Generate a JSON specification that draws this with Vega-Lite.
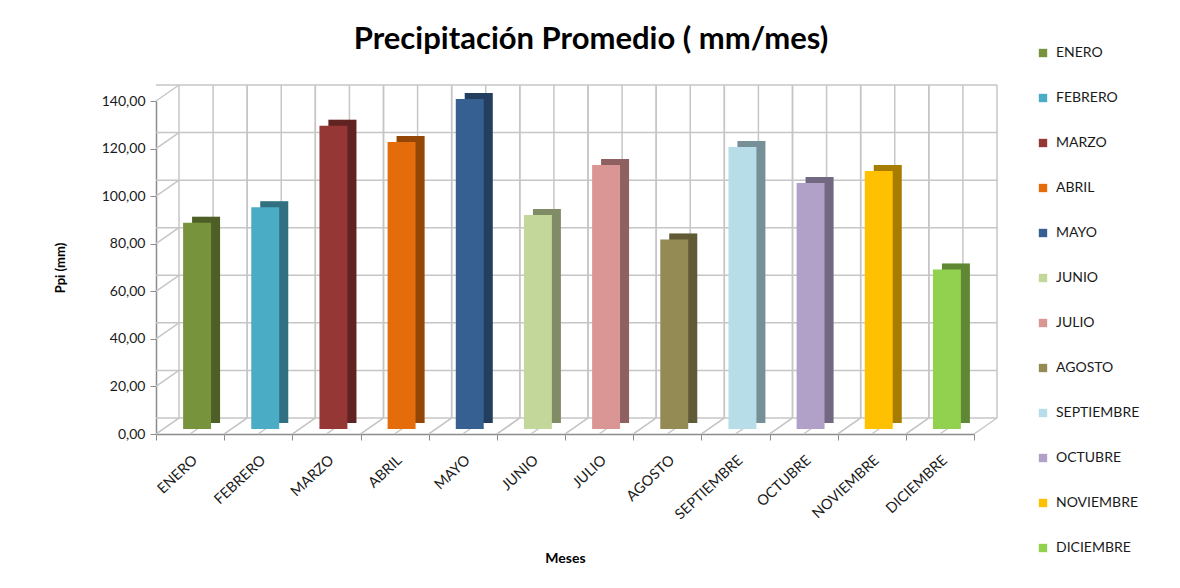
{
  "$schema": "https://vega.github.io/schema/vega-lite/v6.json",
  "width": 818,
  "height": 333,
  "autosize": "none",
  "padding": {"left": 156, "top": 101, "right": 206, "bottom": 154},
  "background": "white",
  "config": {"view": {"stroke": null}, "font": "Lato"},
  "title": {"text": "Precipitación Promedio ( mm/mes)", "font": "Lato", "fontSize": 31, "fontWeight": "bold", "color": "#000000", "anchor": "middle", "dx": 26, "offset": -10},
  "datasets": {
    "meses": [
      {"mes": "ENERO", "ppi": 86.7},
      {"mes": "FEBRERO", "ppi": 93.2},
      {"mes": "MARZO", "ppi": 127.5},
      {"mes": "ABRIL", "ppi": 120.7},
      {"mes": "MAYO", "ppi": 138.7},
      {"mes": "JUNIO", "ppi": 90.0},
      {"mes": "JULIO", "ppi": 111.0},
      {"mes": "AGOSTO", "ppi": 79.7},
      {"mes": "SEPTIEMBRE", "ppi": 118.6},
      {"mes": "OCTUBRE", "ppi": 103.4},
      {"mes": "NOVIEMBRE", "ppi": 108.5},
      {"mes": "DICIEMBRE", "ppi": 67.1}
    ],
    "grid": [{"g": 0}, {"g": 20}, {"g": 40}, {"g": 60}, {"g": 80}, {"g": 100}, {"g": 120}, {"g": 140}]
  },
  "data": {"name": "meses"},
  "layer": [
    {
      "data": {"name": "grid"},
      "mark": {"type": "rule", "color": "#c6c6c6", "strokeWidth": 1.5, "xOffset": 23, "yOffset": -16},
      "encoding": {
        "y": {
          "field": "g", "type": "quantitative", "scale": {"domain": [0, 140], "nice": false},
          "axis": {"title": "Ppi (mm)", "titleFontSize": 13, "titleFontWeight": "bold", "titleColor": "#000000", "titlePadding": 34,
                   "values": [0, 20, 40, 60, 80, 100, 120, 140],
                   "labelExpr": "replace(format(datum.value, '.2f'), '.', ',')",
                   "labelFontSize": 14, "labelColor": "#1a1a1a", "labelPadding": 5,
                   "tickSize": 6, "tickColor": "#8c8c8c", "domainColor": "#8c8c8c", "domainWidth": 1.5, "grid": false}
        }
      }
    },
    {
      "data": {"name": "grid"},
      "mark": {"type": "rule", "color": "#c6c6c6", "strokeWidth": 1.5, "y2Offset": -16, "x2Offset": 23},
      "encoding": {
        "y": {"field": "g", "type": "quantitative"},
        "y2": {"field": "g"},
        "x": {"datum": "ENERO", "type": "nominal", "bandPosition": 0},
        "x2": {"datum": "ENERO", "bandPosition": 0}
      }
    },
    {
      "mark": {"type": "rule", "color": "#c6c6c6", "strokeWidth": 1.5, "xOffset": 23, "yOffset": -16, "y2Offset": -16},
      "encoding": {
        "x": {"field": "mes", "type": "nominal", "sort": null, "bandPosition": 0},
        "y": {"datum": 0},
        "y2": {"datum": 140}
      }
    },
    {
      "mark": {"type": "rule", "color": "#c6c6c6", "strokeWidth": 1.5, "xOffset": 23, "yOffset": -16, "y2Offset": -16},
      "encoding": {
        "x": {"field": "mes", "type": "nominal", "sort": null, "bandPosition": 0.5},
        "y": {"datum": 0},
        "y2": {"datum": 140}
      }
    },
    {
      "mark": {"type": "rule", "color": "#c6c6c6", "strokeWidth": 1.5, "xOffset": 23, "yOffset": -16, "y2Offset": -16},
      "encoding": {
        "x": {"field": "mes", "type": "nominal", "sort": null, "bandPosition": 1},
        "y": {"datum": 0},
        "y2": {"datum": 140}
      }
    },
    {
      "mark": {"type": "rule", "color": "#c6c6c6", "strokeWidth": 1.5, "x2Offset": 23, "y2Offset": -16},
      "encoding": {
        "x": {"field": "mes", "type": "nominal", "sort": null, "bandPosition": 0},
        "x2": {"field": "mes", "bandPosition": 0},
        "y": {"datum": 0},
        "y2": {"datum": 0}
      }
    },
    {
      "mark": {"type": "rule", "color": "#c6c6c6", "strokeWidth": 1.5, "x2Offset": 23, "y2Offset": -16},
      "encoding": {
        "x": {"field": "mes", "type": "nominal", "sort": null, "bandPosition": 0.5},
        "x2": {"field": "mes", "bandPosition": 0.5},
        "y": {"datum": 0},
        "y2": {"datum": 0}
      }
    },
    {
      "mark": {"type": "rule", "color": "#c6c6c6", "strokeWidth": 1.5, "x2Offset": 23, "y2Offset": -16},
      "encoding": {
        "x": {"field": "mes", "type": "nominal", "sort": null, "bandPosition": 1},
        "x2": {"field": "mes", "bandPosition": 1},
        "y": {"datum": 0},
        "y2": {"datum": 0}
      }
    },
    {
      "mark": {"type": "bar", "width": {"band": 0.41}, "xOffset": 16, "yOffset": -11},
      "encoding": {
        "x": {"field": "mes", "type": "nominal", "sort": null},
        "y": {"field": "ppi", "type": "quantitative"},
        "color": {"field": "mes", "type": "nominal", "sort": null}
      }
    },
    {
      "mark": {"type": "bar", "width": {"band": 0.41}, "xOffset": 16, "yOffset": -11, "color": "#000000", "opacity": 0.35},
      "encoding": {
        "x": {"field": "mes", "type": "nominal", "sort": null},
        "y": {"field": "ppi", "type": "quantitative"}
      }
    },
    {
      "mark": {"type": "bar", "width": {"band": 0.41}, "xOffset": 7, "yOffset": -5},
      "encoding": {
        "x": {
          "field": "mes", "type": "nominal", "sort": null,
          "scale": {"paddingInner": 0, "paddingOuter": 0},
          "axis": {"title": "Meses", "titleFontSize": 14, "titleFontWeight": "bold", "titleColor": "#000000", "titlePadding": 30,
                   "labelAngle": -43, "labelAlign": "right", "labelBaseline": "middle", "labelFontSize": 14.5, "labelColor": "#1a1a1a", "labelPadding": 18, "labelOffset": 5,
                   "tickBand": "extent", "tickSize": 6, "tickColor": "#8c8c8c", "domainColor": "#8c8c8c", "domainWidth": 1.5, "grid": false}
        },
        "y": {"field": "ppi", "type": "quantitative"},
        "color": {
          "field": "mes", "type": "nominal", "sort": null,
          "scale": {
            "domain": ["ENERO", "FEBRERO", "MARZO", "ABRIL", "MAYO", "JUNIO", "JULIO", "AGOSTO", "SEPTIEMBRE", "OCTUBRE", "NOVIEMBRE", "DICIEMBRE"],
            "range": ["#77933C", "#4BACC6", "#953735", "#E46C0A", "#366092", "#C4D79B", "#DA9694", "#948A54", "#B7DEE8", "#B1A0C7", "#FFC000", "#92D050"]
          },
          "legend": {"orient": "none", "legendX": 880, "legendY": -55, "title": null, "symbolType": "square", "symbolSize": 70, "symbolStrokeWidth": 0, "symbolOpacity": 1,
                     "labelFontSize": 14, "labelColor": "#1a1a1a", "labelOffset": 6, "rowPadding": 31}
        }
      }
    }
  ]
}
